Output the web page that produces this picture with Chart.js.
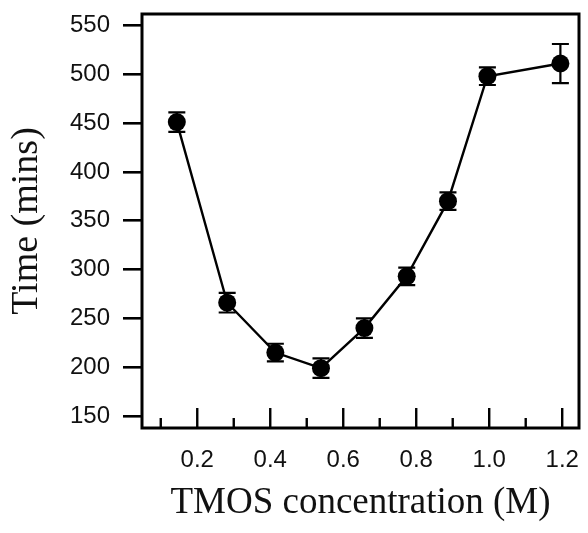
<!DOCTYPE html>
<html>
<head>
<meta charset="utf-8">
<script src="https://cdn.jsdelivr.net/npm/chart.js@4"></script>
<style>
  html, body { margin: 0; padding: 0; background: #fff; }
  #wrap { width: 588px; height: 533px; }
</style>
</head>
<body>
<div id="wrap"><canvas id="chart" width="588" height="533"></canvas></div>
<script>
// TMOS concentration (M)
const concentration = [0.144, 0.282, 0.414, 0.539, 0.658, 0.774, 0.887, 0.995, 1.195];
// Time (mins)
const timeMins = [451, 266, 215, 199, 240, 293, 370, 498, 511];
// error bar half-heights (mins)
const timeErr = [10, 10, 9, 10, 10, 9, 9, 9, 20];
// tick labels
const yTicks = [150, 200, 250, 300, 350, 400, 450, 500, 550];
const xTickLabels = ['0.2', '0.4', '0.6', '0.8', '1.0', '1.2'];

const points = concentration.map((c, i) => ({ x: c, y: timeMins[i] }));

// error bars, drawn with the chart's scales
const errorBars = {
  id: 'errorBars',
  beforeDatasetsDraw(chart) {
    const { ctx, scales: { x, y } } = chart;
    ctx.save();
    ctx.strokeStyle = '#000';
    ctx.lineWidth = 2.2;
    concentration.forEach((c, i) => {
      const px = x.getPixelForValue(c);
      const top = y.getPixelForValue(timeMins[i] + timeErr[i]);
      const bot = y.getPixelForValue(timeMins[i] - timeErr[i]);
      ctx.beginPath();
      ctx.moveTo(px, top); ctx.lineTo(px, bot);
      ctx.moveTo(px - 8.5, top); ctx.lineTo(px + 8.5, top);
      ctx.moveTo(px - 8.5, bot); ctx.lineTo(px + 8.5, bot);
      ctx.stroke();
    });
    ctx.restore();
  }
};

// frame box and inward x ticks
const frame = {
  id: 'frame',
  afterDraw(chart) {
    const { ctx, chartArea: a, scales: { x } } = chart;
    ctx.save();
    ctx.strokeStyle = '#000';
    ctx.lineWidth = 3;
    ctx.strokeRect(a.left, a.top, a.right - a.left, a.bottom - a.top);
    ctx.lineWidth = 2.4;
    x.ticks.forEach(t => {
      const px = x.getPixelForValue(t.value);
      const major = Math.round(t.value * 10) % 2 === 0;
      ctx.beginPath();
      ctx.moveTo(px, a.bottom);
      ctx.lineTo(px, a.bottom - (major ? 20 : 10));
      ctx.stroke();
    });
    ctx.restore();
  }
};

new Chart(document.getElementById('chart'), {
  type: 'scatter',
  data: {
    datasets: [{
      data: points,
      showLine: true,
      borderColor: '#000',
      borderWidth: 2.4,
      pointRadius: 9,
      pointBackgroundColor: '#000',
      pointBorderColor: '#000',
      pointBorderWidth: 0
    }]
  },
  options: {
    responsive: false,
    animation: false,
    layout: { padding: { top: 14, right: 3, left: 0, bottom: 0 } },
    plugins: { legend: { display: false }, tooltip: { enabled: false } },
    scales: {
      x: {
        type: 'linear',
        min: 0.0486,
        max: 1.246,
        afterFit(s) {
          s.height = 105;
          s.paddingLeft = 0; s.paddingRight = 0;
        },
        border: { display: false },
        grid: { display: false, drawTicks: false },
        ticks: {
          stepSize: 0.1,
          includeBounds: false,
          autoSkip: false,
          maxRotation: 0,
          padding: 18,
          color: '#111',
          font: { family: '"Liberation Sans", Arial, sans-serif', size: 24 },
          callback(v) {
            const k = Math.round(v * 10);
            return k % 2 === 0 ? xTickLabels[k / 2 - 1] : '';
          }
        },
        title: {
          display: true,
          text: 'TMOS concentration (M)',
          color: '#111',
          padding: { top: 0, bottom: 8 },
          font: { family: '"Liberation Serif", "Times New Roman", serif', size: 37 }
        }
      },
      y: {
        type: 'linear',
        min: 137.7,
        max: 561.7,
        afterFit(s) {
          s.width = 142;
          s.paddingTop = 0; s.paddingBottom = 0;
        },
        afterBuildTicks(s) { s.ticks = yTicks.map(v => ({ value: v })); },
        border: { display: false },
        grid: { drawOnChartArea: false, drawTicks: true, tickLength: 19, color: '#000', lineWidth: 2.6 },
        ticks: {
          padding: 13,
          color: '#111',
          font: { family: '"Liberation Sans", Arial, sans-serif', size: 24 }
        },
        title: {
          display: true,
          text: 'Time (mins)',
          color: '#111',
          padding: { top: 4, bottom: 0 },
          font: { family: '"Liberation Serif", "Times New Roman", serif', size: 38 }
        }
      }
    }
  },
  plugins: [errorBars, frame]
});
</script>
</body>
</html>
